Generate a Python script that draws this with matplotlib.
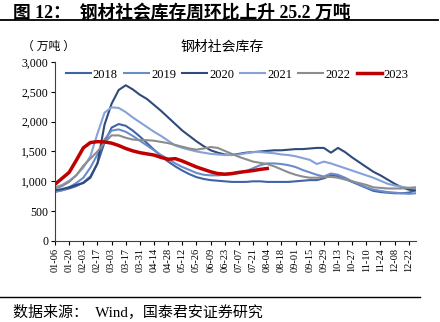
import matplotlib.pyplot as plt
from matplotlib.ticker import FuncFormatter

plt.rcParams['font.family'] = ['Liberation Serif', 'Noto Sans CJK SC']

# weekly steel social inventory (10k tonnes), week 0 = 01-06
weeks = list(range(52))
tick_labels = ['01-06', '01-20', '02-03', '02-17', '03-03', '03-17', '03-31', '04-14',
               '04-28', '05-12', '05-26', '06-09', '06-23', '07-07', '07-21', '08-04',
               '08-18', '09-01', '09-15', '09-29', '10-13', '10-27', '11-10', '11-24',
               '12-08', '12-22']

y2018 = [830, 850, 880, 920, 980, 1080, 1300, 1650, 1900, 1960,
         1930, 1850, 1750, 1640, 1530, 1420, 1330, 1250, 1180, 1120,
         1070, 1040, 1020, 1010, 1000, 990, 990, 990, 1000, 1000,
         990, 990, 990, 990, 1000, 1010, 1020, 1020, 1050, 1100,
         1090, 1040, 990, 940, 890, 840, 820, 810, 800, 800,
         810, 850]
y2019 = [820, 850, 900, 970, 1060, 1230, 1450, 1700, 1850, 1870,
         1830, 1760, 1680, 1600, 1520, 1440, 1370, 1300, 1240, 1190,
         1140, 1110, 1100, 1100, 1110, 1120, 1140, 1170, 1220, 1270,
         1300, 1300, 1290, 1270, 1240, 1190, 1150, 1110, 1080, 1130,
         1110, 1060, 1000, 950, 900, 860, 840, 820, 810, 800,
         790, 800]
y2020 = [850, 870, 900, 940, 970, 1060, 1300, 1950, 2300, 2530,
         2610, 2540, 2450, 2380, 2280, 2180, 2070, 1960, 1850, 1760,
         1670, 1590, 1520, 1480, 1450, 1440, 1460, 1480, 1490, 1500,
         1510, 1520, 1520, 1530, 1540, 1540, 1550, 1560, 1560, 1480,
         1560, 1490, 1400, 1320, 1240, 1160, 1100, 1030, 960, 900,
         860, 850]
y2021 = [900, 940, 1010, 1100, 1230, 1420, 1800, 2150, 2240, 2230,
         2160, 2070, 1990, 1910, 1830, 1760, 1680, 1600, 1560, 1530,
         1500, 1480, 1460, 1450, 1440, 1440, 1450, 1470, 1490, 1490,
         1480, 1470, 1450, 1440, 1420, 1390, 1360, 1290, 1330, 1300,
         1260, 1220, 1180, 1140, 1100, 1060, 1010, 960, 930, 910,
         890, 880]
y2022 = [880, 920, 990, 1100, 1260, 1380, 1500, 1650, 1770, 1770,
         1730, 1700, 1690, 1690, 1680, 1660, 1640, 1610, 1580, 1550,
         1530, 1550, 1575, 1560, 1510, 1460, 1410, 1370, 1330, 1310,
         1290, 1250, 1200, 1150, 1110, 1080, 1060, 1060, 1070, 1075,
         1060, 1030, 1000, 970, 940, 900, 890, 880, 880, 880,
         890, 900]
y2023 = [950, 1050, 1150, 1350, 1560, 1650, 1665, 1660, 1640, 1600,
         1550, 1510, 1480, 1460, 1440, 1400, 1370, 1380, 1340, 1290,
         1240, 1200, 1160, 1130, 1120, 1130, 1150, 1165, 1180, 1200,
         1215]

series = [('2018', y2018, '#3f63a8', 1.5),
          ('2019', y2019, '#6a8ccb', 1.5),
          ('2020', y2020, '#2f4a7c', 1.5),
          ('2021', y2021, '#86a2d8', 1.5),
          ('2022', y2022, '#8c8c8c', 1.5),
          ('2023', y2023, '#c00000', 2.5)]

fig = plt.figure(figsize=(4.4, 3.22), dpi=100)
ax = fig.add_axes([0.125, 0.2516, 0.82, 0.5559])

for name, vals, color, lw in series:
    ax.plot(weeks[:len(vals)], vals, color=color, lw=lw, label=name)

ax.set_xlim(0, 51)
ax.set_ylim(0, 3000)
ax.set_yticks(range(0, 3001, 500))
ax.yaxis.set_major_formatter(FuncFormatter(lambda v, p: f'{int(v):,}'))
ax.set_xticks(range(0, 51, 2))
ax.set_xticklabels(tick_labels, rotation=90, fontsize=7.5)
ax.tick_params(axis='y', labelsize=8.5, length=3, width=0.8, pad=2)
ax.tick_params(axis='x', length=3, width=0.8, pad=2)
for s in ['top', 'right']:
    ax.spines[s].set_visible(False)
for s in ['left', 'bottom']:
    ax.spines[s].set_color('#404040')
    ax.spines[s].set_linewidth(0.8)

ax.legend(loc='upper center', bbox_to_anchor=(0.505, 0.99), ncol=6, frameon=False,
          fontsize=9, handlelength=2.0, columnspacing=0.5, handletextpad=0.15,
          borderaxespad=0)

fig.text(0.05, 0.855, '（ 万吨 ）', fontsize=8.5, ha='left', va='center')
fig.text(0.505, 0.852, '钢材社会库存', fontsize=10, ha='center', va='center')

fig.text(0.03, 0.962, '图 12：  钢材社会库存周环比上升 25.2 万吨', fontsize=12.8,
         fontweight='bold', ha='left', va='center')
fig.add_artist(plt.Line2D([0.0, 0.995], [0.937, 0.937], color='black', lw=1.3))
fig.add_artist(plt.Line2D([0.0, 0.955], [0.078, 0.078], color='black', lw=1.0))
fig.text(0.03, 0.033, '数据来源：  Wind，国泰君安证券研究', fontsize=10.8,
         ha='left', va='center')

fig.savefig('out.png', dpi=100)
